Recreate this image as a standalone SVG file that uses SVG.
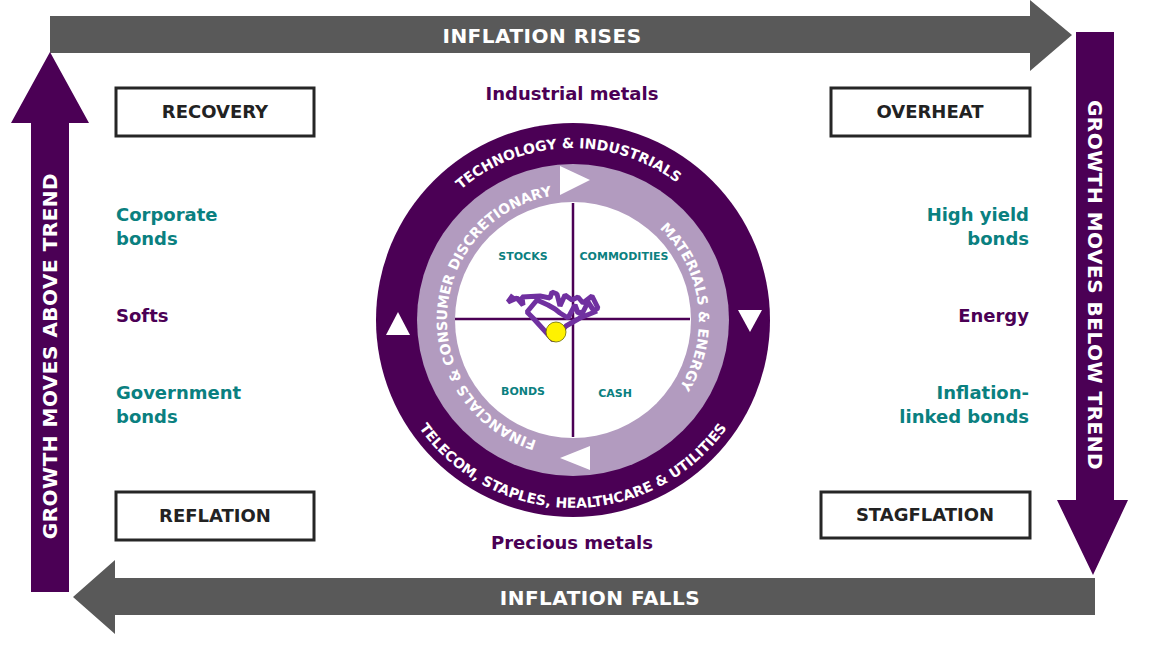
<svg xmlns="http://www.w3.org/2000/svg" width="1150" height="651" viewBox="0 0 1150 651">
<style>
text{font-family:"DejaVu Sans","Liberation Sans",Arial,sans-serif;font-weight:bold}
.arr{fill:#fff;font-size:20px;letter-spacing:0.5px}
.box{fill:#fff;stroke:#262626;stroke-width:3}
.bt{fill:#222;font-size:18px;text-anchor:middle}
.teal{fill:#0A8080;font-size:18px}
.pur{fill:#4B0055;font-size:18px}
.ring{fill:#fff;font-size:14px}
.q{fill:#0A8080;font-size:11px;text-anchor:middle}
</style>
<defs>
<path id="pTop" d="M 401 320 A 172 172 0 0 1 745 320"/>
<path id="pBot" d="M 385 320 A 188 188 0 0 0 761 320"/>
<path id="pLeft" d="M 573 446 A 126 126 0 0 1 573 194"/>
<path id="pRight" d="M 573 194 A 126 126 0 0 1 573 446"/>
</defs>
<g id="connectors">
<polygon fill="#595959" points="50,16 1030,16 1030,0 1072,35 1030,71 1030,53 50,53"/>
<polygon fill="#4B0055" points="1076,32 1114,32 1114,500 1128,500 1093,575 1057,500 1076,500"/>
<polygon fill="#595959" points="1095,578 115,578 115,560 73,597 115,634 115,615 1095,615"/>
<polygon fill="#4B0055" points="31,592 69,592 69,123 89,123 50,52 11,123 31,123"/>
<text class="arr" x="542" y="43" text-anchor="middle">INFLATION RISES</text>
<text class="arr" x="600" y="605" text-anchor="middle">INFLATION FALLS</text>
<text class="arr" transform="translate(57,356) rotate(-90)" text-anchor="middle">GROWTH MOVES ABOVE TREND</text>
<text class="arr" transform="translate(1088,285) rotate(90)" text-anchor="middle">GROWTH MOVES BELOW TREND</text>
</g>
<g id="recovery"><rect class="box" x="116" y="88" width="198" height="48"/><text class="bt" x="215" y="118">RECOVERY</text></g>
<g id="overheat"><rect class="box" x="831" y="88" width="199" height="48"/><text class="bt" x="930" y="118">OVERHEAT</text></g>
<g id="reflation"><rect class="box" x="116" y="492" width="198" height="48"/><text class="bt" x="215" y="522">REFLATION</text></g>
<g id="stagflation"><rect class="box" x="821" y="492" width="209" height="46"/><text class="bt" x="925" y="521">STAGFLATION</text></g>
<g id="labels">
<text class="pur" x="572" y="100" text-anchor="middle">Industrial metals</text>
<text class="pur" x="572" y="549" text-anchor="middle">Precious metals</text>
<text class="teal" x="116" y="221">Corporate</text><text class="teal" x="116" y="245">bonds</text>
<text class="pur" x="116" y="322">Softs</text>
<text class="teal" x="116" y="399">Government</text><text class="teal" x="116" y="423">bonds</text>
<text class="teal" x="1029" y="221" text-anchor="end">High yield</text><text class="teal" x="1029" y="245" text-anchor="end">bonds</text>
<text class="pur" x="1029" y="322" text-anchor="end">Energy</text>
<text class="teal" x="1029" y="399" text-anchor="end">Inflation-</text><text class="teal" x="1029" y="423" text-anchor="end">linked bonds</text>
</g>
<g id="clock">
<circle cx="573" cy="320" r="197" fill="#4B0055"/>
<circle cx="573" cy="320" r="156" fill="#B29BBF"/>
<circle cx="573" cy="320" r="118" fill="#fff"/>
<line x1="573" y1="203" x2="573" y2="437" stroke="#4B0055" stroke-width="2.5"/>
<line x1="455" y1="319" x2="690" y2="319" stroke="#4B0055" stroke-width="2.5"/>
<polygon fill="#fff" points="560,166 590,180 560,195"/>
<polygon fill="#fff" points="590,446 560,458 590,470"/>
<polygon fill="#fff" points="386,335 398,312 410,335"/>
<polygon fill="#fff" points="738,310 762,310 750,332"/>
<text class="ring"><textPath href="#pTop" startOffset="49%" text-anchor="middle">TECHNOLOGY &amp; INDUSTRIALS</textPath></text>
<text class="ring"><textPath href="#pBot" startOffset="50%" text-anchor="middle">TELECOM, STAPLES, HEALTHCARE &amp; UTILITIES</textPath></text>
<text class="ring" font-size="13"><textPath href="#pLeft" startOffset="52%" text-anchor="middle">FINANCIALS &amp; CONSUMER DISCRETIONARY</textPath></text>
<text class="ring" font-size="13"><textPath href="#pRight" startOffset="46%" text-anchor="middle">MATERIALS &amp; ENERGY</textPath></text>
<text class="q" x="523" y="260">STOCKS</text>
<text class="q" x="624" y="260">COMMODITIES</text>
<text class="q" x="523" y="395">BONDS</text>
<text class="q" x="615" y="397">CASH</text>
<polyline fill="none" stroke="#7030A0" stroke-width="5" stroke-linejoin="bevel" points="513,295 508,302 517,298 523,305 522,297 540,296 550,298 552,292 557,294 560,306 565,295 572,300 578,297 583,303 592,296 598,308 594,311 588,302 583,312 578,313 575,305 568,318 560,313 555,309 548,305 537,300 527,312 533,318 553,340 557,337 566,326 580,318 597,311"/>
<circle cx="556" cy="332" r="10" fill="#FFF200" stroke="#6b6b00" stroke-width="0.8"/>
</g>
</svg>
